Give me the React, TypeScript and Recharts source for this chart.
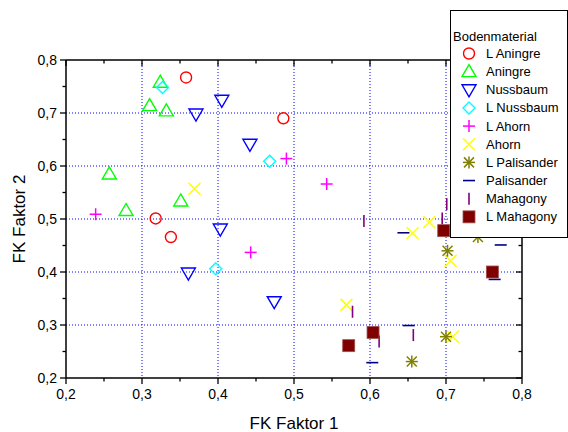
import React from "react";
import { ScatterChart, Scatter, XAxis, YAxis, CartesianGrid, Legend } from "recharts";

// Achsen
const X_TICKS = [0.2, 0.25, 0.3, 0.35, 0.4, 0.45, 0.5, 0.55, 0.6, 0.65, 0.7, 0.75, 0.8];
const Y_TICKS = [0.2, 0.25, 0.3, 0.35, 0.4, 0.45, 0.5, 0.55, 0.6, 0.65, 0.7, 0.75, 0.8];
const GRID_VALUES = [0.3, 0.4, 0.5, 0.6, 0.7];

// Messwerte [FK Faktor 1, FK Faktor 2]
const lAningre = [[0.358, 0.767], [0.486, 0.69], [0.318, 0.501], [0.338, 0.466]];
const aningre = [[0.324, 0.758], [0.31, 0.714], [0.332, 0.704], [0.257, 0.585], [0.279, 0.516], [0.351, 0.534]];
const nussbaum = [[0.405, 0.724], [0.371, 0.698], [0.442, 0.641], [0.403, 0.481], [0.361, 0.398], [0.474, 0.344]];
const lNussbaum = [[0.327, 0.748], [0.468, 0.609], [0.397, 0.406]];
const lAhorn = [[0.49, 0.614], [0.239, 0.509], [0.443, 0.437], [0.543, 0.566]];
const ahorn = [[0.369, 0.557], [0.656, 0.473], [0.678, 0.494], [0.706, 0.421], [0.569, 0.338], [0.709, 0.278]];
const lPalisander = [[0.702, 0.44], [0.742, 0.466], [0.7, 0.278], [0.655, 0.231]];
const palisander = [[0.644, 0.474], [0.772, 0.451], [0.764, 0.386], [0.603, 0.229], [0.651, 0.299]];
const mahagony = [[0.701, 0.528], [0.695, 0.501], [0.592, 0.496], [0.577, 0.325], [0.612, 0.269], [0.657, 0.281]];
const lMahagony = [[0.697, 0.478], [0.761, 0.4], [0.572, 0.261], [0.604, 0.286]];

type Kind = "circle" | "up" | "down" | "diamond" | "plus" | "cross" | "star" | "hline" | "vline" | "square";

const SERIES: { name: string; data: number[][]; kind: Kind; color: string }[] = [
  { name: "L Aningre", data: lAningre, kind: "circle", color: "#ff0000" },
  { name: "Aningre", data: aningre, kind: "up", color: "#00ff00" },
  { name: "Nussbaum", data: nussbaum, kind: "down", color: "#0000ff" },
  { name: "L Nussbaum", data: lNussbaum, kind: "diamond", color: "#00ffff" },
  { name: "L Ahorn", data: lAhorn, kind: "plus", color: "#ff00ff" },
  { name: "Ahorn", data: ahorn, kind: "cross", color: "#ffff00" },
  { name: "L Palisander", data: lPalisander, kind: "star", color: "#808000" },
  { name: "Palisander", data: palisander, kind: "hline", color: "#000080" },
  { name: "Mahagony", data: mahagony, kind: "vline", color: "#800080" },
  { name: "L Mahagony", data: lMahagony, kind: "square", color: "#800000" },
];

function Marker({ cx, cy, kind, color }: { cx: number; cy: number; kind: Kind; color: string }) {
  const sw = 1.4;
  switch (kind) {
    case "circle":
      return <circle cx={cx} cy={cy} r={5.5} fill="none" stroke={color} strokeWidth={sw} />;
    case "up":
      return <polygon points={`${cx},${cy - 7} ${cx - 7},${cy + 5} ${cx + 7},${cy + 5}`} fill="none" stroke={color} strokeWidth={sw} />;
    case "down":
      return <polygon points={`${cx - 7},${cy - 5} ${cx + 7},${cy - 5} ${cx},${cy + 7}`} fill="none" stroke={color} strokeWidth={sw} />;
    case "diamond":
      return <polygon points={`${cx},${cy - 6} ${cx + 6},${cy} ${cx},${cy + 6} ${cx - 6},${cy}`} fill="none" stroke={color} strokeWidth={sw} />;
    case "plus":
      return (
        <g stroke={color} strokeWidth={1.5}>
          <line x1={cx - 6} x2={cx + 6} y1={cy} y2={cy} />
          <line x1={cx} x2={cx} y1={cy - 6} y2={cy + 6} />
        </g>
      );
    case "cross":
      return (
        <g stroke={color} strokeWidth={1.5}>
          <line x1={cx - 6} x2={cx + 6} y1={cy - 6} y2={cy + 6} />
          <line x1={cx - 6} x2={cx + 6} y1={cy + 6} y2={cy - 6} />
        </g>
      );
    case "star":
      return (
        <g stroke={color} strokeWidth={1.5}>
          <line x1={cx - 6} x2={cx + 6} y1={cy} y2={cy} />
          <line x1={cx} x2={cx} y1={cy - 6} y2={cy + 6} />
          <line x1={cx - 5} x2={cx + 5} y1={cy - 5} y2={cy + 5} />
          <line x1={cx - 5} x2={cx + 5} y1={cy + 5} y2={cy - 5} />
        </g>
      );
    case "hline":
      return <line x1={cx - 6} x2={cx + 6} y1={cy} y2={cy} stroke={color} strokeWidth={1.6} />;
    case "vline":
      return <line x1={cx} x2={cx} y1={cy - 6} y2={cy + 6} stroke={color} strokeWidth={1.6} />;
    case "square":
      return <rect x={cx - 6} y={cy - 6} width={12} height={12} fill={color} stroke="#a05050" strokeWidth={0.8} />;
  }
  return null;
}

const isMajor = (v: number) => Math.abs(v * 10 - Math.round(v * 10)) < 1e-6;
const fmt = (v: number) => v.toFixed(1).replace(".", ",");

function BottomTick({ x, y, payload }: any) {
  const major = isMajor(payload.value);
  return (
    <g>
      <line x1={x} x2={x} y1={y} y2={y + (major ? 6 : 3.5)} stroke="#000" strokeWidth={1.3} />
      {major && (
        <text x={x} y={y + 21} textAnchor="middle" fontSize={14} fill="#000">
          {fmt(payload.value)}
        </text>
      )}
    </g>
  );
}

function TopTick({ x, y, payload }: any) {
  const major = isMajor(payload.value);
  return <line x1={x} x2={x} y1={y} y2={y + (major ? 6 : 3.5)} stroke="#000" strokeWidth={1.3} />;
}

function LeftTick({ x, y, payload }: any) {
  const major = isMajor(payload.value);
  return (
    <g>
      <line x1={x - (major ? 6 : 3.5)} x2={x} y1={y} y2={y} stroke="#000" strokeWidth={1.3} />
      {major && (
        <text x={x - 9} y={y} dy="0.35em" textAnchor="end" fontSize={14} fill="#000">
          {fmt(payload.value)}
        </text>
      )}
    </g>
  );
}

function RightTick({ x, y, payload }: any) {
  const major = isMajor(payload.value);
  return <line x1={x - (major ? 6 : 3.5)} x2={x} y1={y} y2={y} stroke="#000" strokeWidth={1.3} />;
}

function LegendBox() {
  return (
    <div style={{ width: 118, height: 228, boxSizing: "border-box", border: "1px solid #000", background: "#fff" }}>
      <svg width={116} height={226} style={{ display: "block", fontFamily: "Liberation Sans, Arial, sans-serif" }}>
        <text x={2} y={25} dominantBaseline="central" fontSize={13} fill="#000">
          Bodenmaterial
        </text>
        {SERIES.map((s, i) => {
          const cy = 42.5 + i * 18.15;
          return (
            <g key={s.name}>
              <Marker cx={18} cy={cy} kind={s.kind} color={s.color} />
              <text x={35} y={cy} dominantBaseline="central" fontSize={13} fill="#000">
                {s.name}
              </text>
            </g>
          );
        })}
      </svg>
    </div>
  );
}

export default function App() {
  return (
    <div style={{ position: "absolute", left: 0, top: 0, fontFamily: "Liberation Sans, Arial, sans-serif" }}>
      <ScatterChart width={568} height={432} margin={{ top: 0, right: 0, bottom: 0, left: 0 }}>
        <CartesianGrid
          xAxisId="b"
          yAxisId="l"
          horizontalValues={GRID_VALUES}
          verticalValues={GRID_VALUES}
          stroke="#0000ff"
          strokeDasharray="1 2"
        />
        <XAxis
          xAxisId="b"
          dataKey="x"
          type="number"
          orientation="bottom"
          domain={[0.2, 0.8]}
          ticks={X_TICKS}
          interval={0}
          allowDataOverflow
          height={54}
          tickSize={0}
          tickMargin={0}
          tickLine={false}
          tick={<BottomTick />}
          axisLine={{ stroke: "#000", strokeWidth: 1.5 }}
          label={{ value: "FK Faktor 1", position: "insideBottom", offset: 3, fontSize: 17, fill: "#000" }}
        />
        <XAxis
          xAxisId="t"
          dataKey="x"
          type="number"
          orientation="top"
          domain={[0.2, 0.8]}
          ticks={X_TICKS}
          interval={0}
          allowDataOverflow
          height={60}
          tickSize={0}
          tickMargin={0}
          tickLine={false}
          tick={<TopTick />}
          axisLine={{ stroke: "#000", strokeWidth: 1.5 }}
        />
        <YAxis
          yAxisId="l"
          dataKey="y"
          type="number"
          orientation="left"
          domain={[0.2, 0.8]}
          ticks={Y_TICKS}
          interval={0}
          allowDataOverflow
          width={66}
          tickSize={0}
          tickMargin={0}
          tickLine={false}
          tick={<LeftTick />}
          axisLine={{ stroke: "#000", strokeWidth: 1.5 }}
          label={{
            content: (p: any) => {
              const vb = p.viewBox || { y: 60, height: 318 };
              const cy = vb.y + vb.height / 2;
              return (
                <text x={19} y={cy} transform={`rotate(-90 19 ${cy})`} textAnchor="middle" dominantBaseline="central" fontSize={17} fill="#000">
                  FK Faktor 2
                </text>
              );
            },
          }}
        />
        <YAxis
          yAxisId="r"
          dataKey="y"
          type="number"
          orientation="right"
          domain={[0.2, 0.8]}
          ticks={Y_TICKS}
          interval={0}
          allowDataOverflow
          width={46}
          tickSize={0}
          tickMargin={0}
          tickLine={false}
          tick={<RightTick />}
          axisLine={{ stroke: "#000", strokeWidth: 1.5 }}
        />
        {SERIES.map((s) => (
          <Scatter
            key={s.name}
            name={s.name}
            xAxisId="b"
            yAxisId="l"
            data={s.data.map(([x, y]) => ({ x, y }))}
            isAnimationActive={false}
            shape={(p: any) => <Marker cx={p.cx} cy={p.cy} kind={s.kind} color={s.color} />}
          />
        ))}
        <Legend
          layout="vertical"
          align="center"
          verticalAlign="middle"
          wrapperStyle={{ position: "absolute", left: 450, top: 10, width: 118, height: 228 }}
          content={() => <LegendBox />}
        />
      </ScatterChart>
    </div>
  );
}
